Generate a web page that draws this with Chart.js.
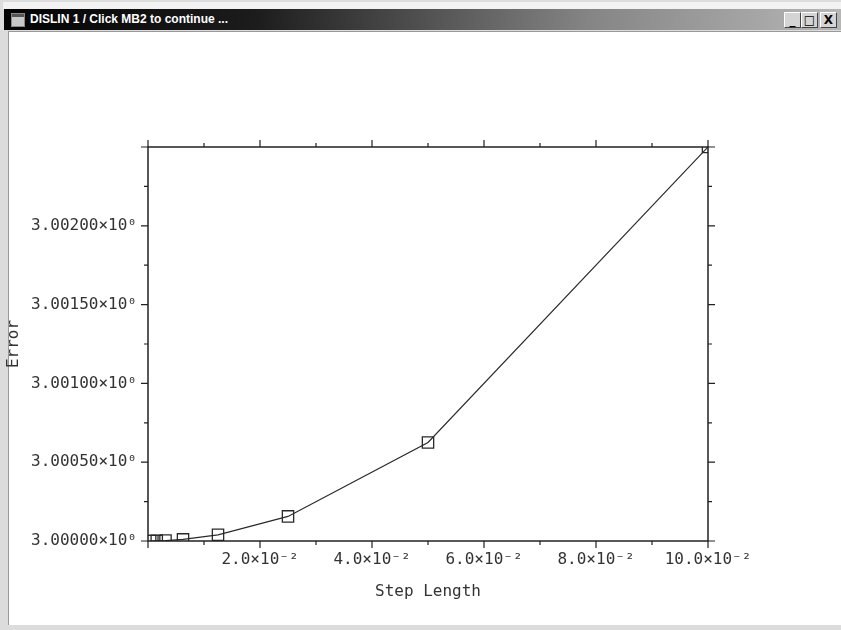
<!DOCTYPE html>
<html>
<head>
<meta charset="utf-8">
<script src="https://cdn.jsdelivr.net/npm/chart.js@4.4.0/dist/chart.umd.min.js"></script>
<style>
body { margin: 0; width: 841px; height: 630px; overflow: hidden; background: #dcdcdc; position: relative; }
#topstrip { position: absolute; left: 3px; top: 2px; width: 838px; height: 7px; background: #f2f2f2; }
#client { position: absolute; left: 8px; top: 31px; width: 833px; height: 593px; background: #fff; border-left: 1px solid #999; border-top: 1px solid #999; }
#titlebar { position: absolute; left: 4px; top: 9px; width: 837px; height: 21px;
  background: linear-gradient(to right, #030303 0%, #1c1c1c 30%, #858585 70%, #b6b6b6 100%); }
#icon { position: absolute; left: 7px; top: 4px; width: 12px; height: 12px; background: #c8c8c8; border: 1px solid #888; }
#icon div { height: 3px; background: #555; }
#caption { position: absolute; left: 26px; top: 3px; color: #fff; font: bold 12px "Liberation Sans", sans-serif; white-space: nowrap; }
.btn { position: absolute; top: 3px; width: 15px; height: 14px; background: #d4d4d4;
  border-top: 1px solid #fff; border-left: 1px solid #fff; border-right: 1px solid #444; border-bottom: 1px solid #444;
  font: bold 12px "DejaVu Sans", sans-serif; color: #000; text-align: center; line-height: 14px; }
#chart { position: absolute; left: 0; top: 0; }
</style>
</head>
<body>
<div id="topstrip"></div>
<div id="client"></div>
<div id="titlebar">
  <div id="icon"><div></div></div>
  <div id="caption">DISLIN 1 / Click MB2 to continue ...</div>
  <div class="btn" style="left:780px">_</div>
  <div class="btn" style="left:797px">□</div>
  <div class="btn" style="left:816px">X</div>
</div>
<canvas id="chart" width="841" height="630"></canvas>
<script>
// step lengths (halved each run) and error
const stepLength = [0.1, 0.05, 0.025, 0.0125, 0.00625, 0.003125, 0.0015625, 0.00078125, 0.000390625];
const errorVal = [3.0025, 3.000625, 3.000156, 3.000039, 3.00001, 3.0000024, 3.0000006, 3.00000015, 3.00000004];

// labels for the major ticks (every second tick)
const xTickLabels = ['', '2.0×10⁻²', '4.0×10⁻²', '6.0×10⁻²', '8.0×10⁻²', '10.0×10⁻²'];
const yTickLabels = ['3.00000×10⁰', '3.00050×10⁰', '3.00100×10⁰', '3.00150×10⁰', '3.00200×10⁰', ''];

const labelFont = { family: 'DejaVu Sans Mono', size: 16 };
const ink = '#333';

// DISLIN style frame with outward ticks on all four sides
const frameTicks = {
    id: 'frameTicks',
    afterDraw(chart) {
        const c = chart.ctx;
        const a = chart.chartArea;
        const xs = chart.scales.x, ys = chart.scales.y;
        c.save();
        c.strokeStyle = '#222';
        c.lineWidth = 1.5;
        c.strokeRect(a.left, a.top, a.right - a.left, a.bottom - a.top);
        c.lineWidth = 1.2;
        c.beginPath();
        xs.ticks.forEach((t, i) => {
            let px = xs.getPixelForValue(t.value);
            let len = i % 2 == 0 ? 7 : 4;
            c.moveTo(px, a.bottom); c.lineTo(px, a.bottom + len);
            c.moveTo(px, a.top); c.lineTo(px, a.top - len);
        });
        ys.ticks.forEach((t, i) => {
            let py = ys.getPixelForValue(t.value);
            let len = i % 2 == 0 ? 7 : 4;
            c.moveTo(a.left, py); c.lineTo(a.left - len, py);
            c.moveTo(a.right, py); c.lineTo(a.right + len, py);
        });
        c.stroke();
        c.restore();
    }
};

const points = stepLength.map((s, i) => ({ x: s, y: errorVal[i] }));

new Chart(document.getElementById('chart'), {
    type: 'scatter',
    data: {
        datasets: [{
            data: points,
            showLine: true,
            borderColor: '#2a2a2a',
            borderWidth: 1.2,
            pointStyle: 'rect',
            pointRadius: 8,
            pointBorderWidth: 1.3,
            pointBorderColor: '#2a2a2a',
            pointBackgroundColor: 'rgba(0,0,0,0)',
            clip: 0
        }]
    },
    options: {
        responsive: false,
        animation: false,
        layout: { padding: { left: 0, top: 147, right: 133, bottom: 0 } },
        plugins: { legend: { display: false }, tooltip: { enabled: false } },
        scales: {
            x: {
                type: 'linear',
                min: 0,
                max: 0.1,
                afterFit: s => { s.height = 89; },
                grid: { display: false, drawTicks: false },
                border: { display: false },
                ticks: {
                    stepSize: 0.01,
                    autoSkip: false,
                    maxRotation: 0,
                    padding: 9,
                    color: ink,
                    font: labelFont,
                    callback: (v, i) => i % 2 == 0 ? xTickLabels[i / 2] : ''
                },
                title: { display: true, text: 'Step Length', color: ink, font: labelFont, padding: { top: 0, bottom: 29 } }
            },
            y: {
                type: 'linear',
                min: 3.0,
                max: 3.0025,
                afterFit: s => { s.width = 148; },
                grid: { display: false, drawTicks: false },
                border: { display: false },
                ticks: {
                    stepSize: 0.00025,
                    autoSkip: false,
                    padding: 11,
                    color: ink,
                    font: labelFont,
                    callback: (v, i) => i % 2 == 0 ? yTickLabels[i / 2] : ''
                },
                title: { display: true, text: 'Error', color: ink, font: labelFont, padding: { top: 4, bottom: 0 } }
            }
        }
    },
    plugins: [frameTicks]
});
</script>
</body>
</html>
